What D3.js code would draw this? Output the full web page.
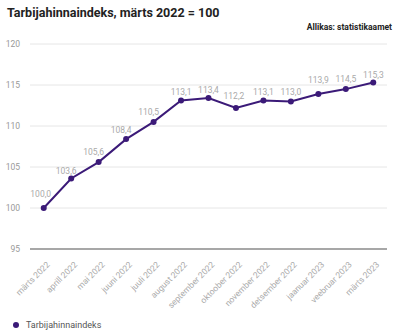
<!DOCTYPE html>
<html><head><meta charset="utf-8">
<script src="https://cdn.jsdelivr.net/npm/d3@7"></script>
<style>body{margin:0;background:#fff}svg{display:block;font-family:Roboto,sans-serif}</style>
</head><body><svg id="c" width="400" height="333"></svg>
<script>
const categories = ["märts 2022","aprill 2022","mai 2022","juuni 2022","juuli 2022","august 2022","september 2022","oktoober 2022","november 2022","detsember 2022","jaanuar 2023","veebruar 2023","märts 2023"];
const values = [100.0,103.6,105.6,108.4,110.5,113.1,113.4,112.2,113.1,113.0,113.9,114.5,115.3];
const yTicks = [95,100,105,110,115,120];
const seriesName = "Tarbijahinnaindeks";

// label placement nudges (layout only)
const labelDx = [-3,-5,-5,-5,-5,0,0,-2,0,0,0,0,0];
const labelDy = [-11,-4,-7,-6,-7,-6,-5,-9,-6,-6.5,-11,-7,-5];

const svg = d3.select("#c");
const color = "#3b1a78";
const x = d3.scalePoint().domain(categories).range([30,387]).padding(0.5);
const y = d3.scaleLinear().domain([95,120]).range([249,44]);
const fmt = v => d3.format(".1f")(v).replace(".", ",");

svg.append("text").attr("x",7).attr("y",17).attr("font-size",12.5).attr("font-weight","bold").attr("fill","#222").text("Tarbijahinnaindeks, märts 2022 = 100");
svg.append("text").attr("x",392).attr("y",30).attr("text-anchor","end").attr("font-size",8.5).attr("font-weight","bold").attr("fill","#222").text("Allikas: statistikaamet");

const g = svg.append("g");
g.selectAll("line.grid").data(yTicks.filter(t=>t!==95)).join("line")
 .attr("x1",30).attr("x2",387).attr("y1",d=>y(d)).attr("y2",d=>y(d)).attr("stroke","#e6e6e6").attr("stroke-width",1);
g.append("line").attr("x1",30).attr("x2",387).attr("y1",y(95)).attr("y2",y(95)).attr("stroke","#8a8a8a").attr("stroke-width",1.6);

const yAxis = svg.append("g").attr("transform","translate(20,0)").call(d3.axisLeft(y).tickValues(yTicks).tickSize(0).tickPadding(0));
yAxis.select(".domain").remove();
yAxis.selectAll("text").attr("font-size",8.5).attr("fill","#999").attr("font-family","Roboto,sans-serif");

const xAxis = svg.append("g").attr("transform",`translate(0,${y(95)})`).call(d3.axisBottom(x).tickSize(0));
xAxis.select(".domain").remove();
xAxis.selectAll("text").attr("font-size",8.5).attr("fill","#aaa").attr("font-family","Roboto,sans-serif")
 .attr("text-anchor","end").attr("dy",0).attr("transform","translate(4,14) rotate(-45)");

const line = d3.line().x((d,i)=>x(categories[i])).y(d=>y(d));
svg.append("path").datum(values).attr("d",line).attr("fill","none").attr("stroke",color).attr("stroke-width",2);
svg.selectAll("circle.pt").data(values).join("circle").attr("class","pt")
 .attr("cx",(d,i)=>x(categories[i])).attr("cy",d=>y(d)).attr("r",3).attr("fill",color);
svg.selectAll("text.lbl").data(values).join("text").attr("class","lbl")
 .attr("x",(d,i)=>x(categories[i])+labelDx[i]).attr("y",(d,i)=>y(d)+labelDy[i]).attr("text-anchor","middle")
 .attr("font-size",8.5).attr("fill","#aaa").text(d=>fmt(d));

svg.append("circle").attr("cx",16).attr("cy",325).attr("r",3).attr("fill",color);
svg.append("text").attr("x",26).attr("y",328).attr("font-size",9).attr("fill","#555").text(seriesName);
</script></body></html>
